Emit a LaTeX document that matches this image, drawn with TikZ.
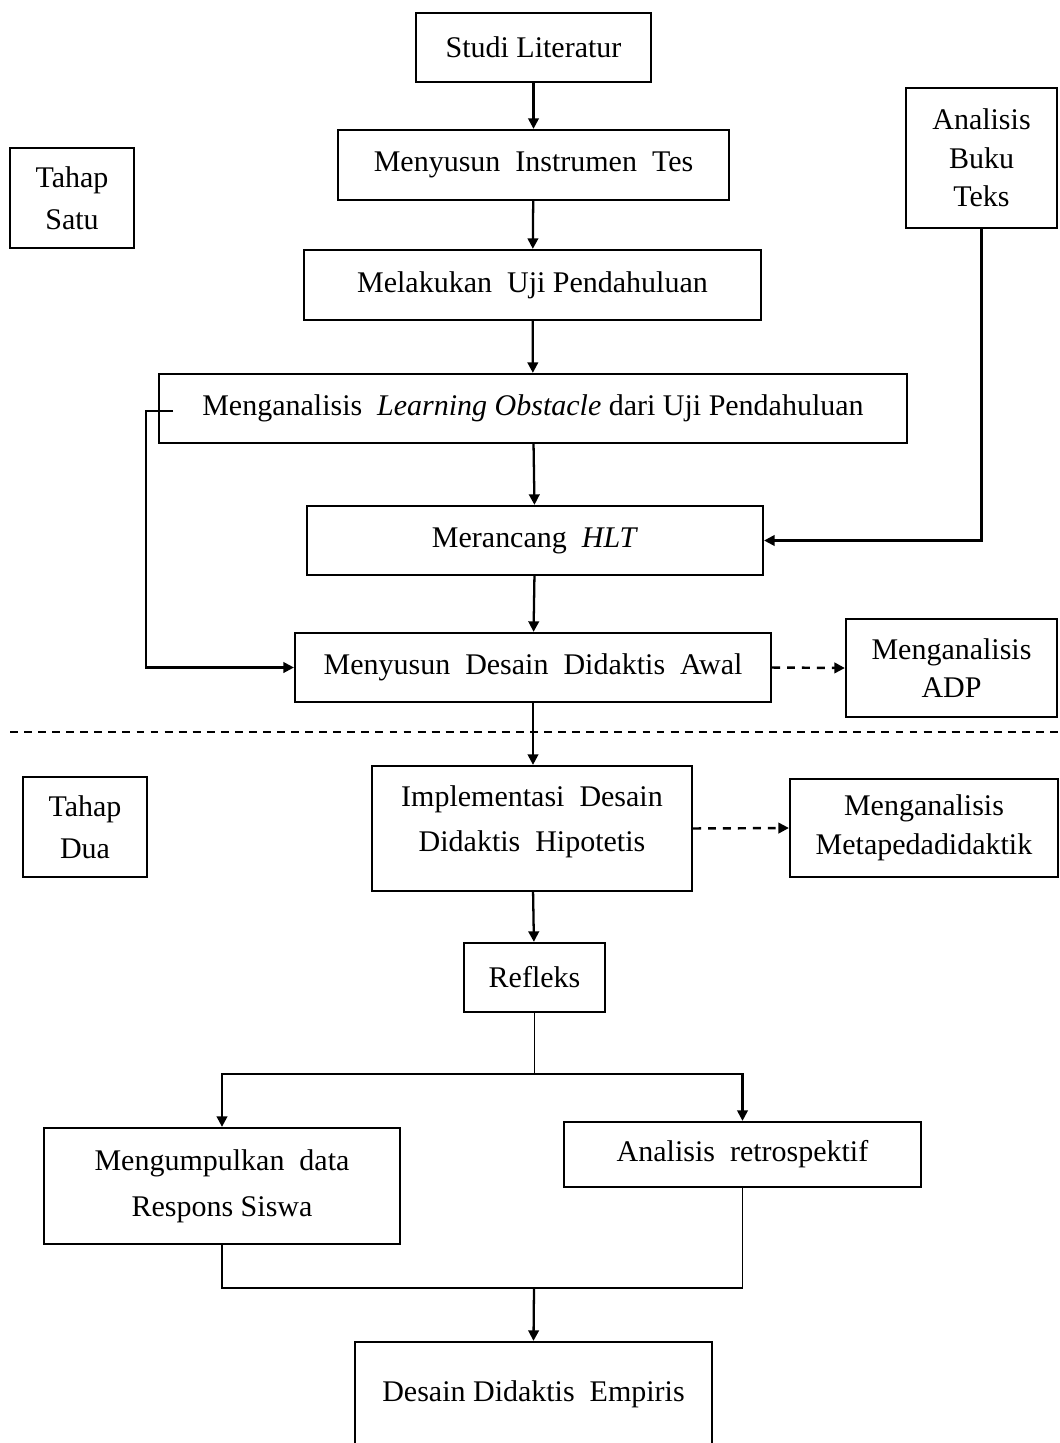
\documentclass[tikz,border=0pt]{standalone}
\usepackage{fontspec}
\setmainfont{Liberation Serif}
\usetikzlibrary{arrows.meta}

\begin{document}
\begin{tikzpicture}[x=0.02cm, y=-0.02cm,
  font=\fontsize{17.07}{22}\selectfont, >={Triangle[length=6pt,width=6pt]},
  flowbox/.style={draw, line width=1.3pt, align=center, inner sep=2pt},
  arr/.style={line width=1.3pt,->},
  dasharr/.style={line width=1.4pt,->,dash pattern=on 4.5pt off 4pt},
  joinline/.style={line width=1pt},
]
\useasboundingbox (0,0) rectangle (1059,1443);
\clip (0,0) rectangle (1059,1443);

% Tahap satu
\node[flowbox, minimum width=2.48cm, minimum height=2.00cm] (satu) at (72,198) {Tahap\\[2pt]Satu};
\node[flowbox, minimum width=4.70cm, minimum height=1.38cm] (studi) at (533.5,47.5) {Studi Literatur};
\node[flowbox, minimum width=7.82cm, minimum height=1.40cm] (instr) at (533.5,165) {Menyusun\ \ Instrumen\ \ Tes};
\node[flowbox, minimum width=9.14cm, minimum height=1.40cm] (uji) at (532.5,285) {Melakukan\ \ Uji Pendahuluan};
\node[flowbox, minimum width=14.96cm, minimum height=1.38cm] (learn) at (533,408.5)
  {Menganalisis\ \ \textit{Learning Obstacle} dari Uji Pendahuluan};
\node[flowbox, minimum width=9.12cm, minimum height=1.38cm] (hlt) at (535,540.5) {Merancang\ \ \textit{HLT}};
\node[flowbox, minimum width=9.52cm, minimum height=1.38cm] (awal) at (533,667.5)
  {Menyusun\ \ Desain\ \ Didaktis\ \ Awal};
\node[flowbox, minimum width=3.02cm, minimum height=2.80cm] (buku) at (981.5,158) {Analisis\\Buku\\Teks};
\node[flowbox, minimum width=4.22cm, minimum height=1.96cm] (adp) at (951.5,668) {Menganalisis\\ADP};

% Garis pemisah tahap
\draw[line width=0.9pt, dash pattern=on 4.5pt off 3.5pt] (10,732) -- (1059,732);

% Tahap dua
\node[flowbox, minimum width=2.48cm, minimum height=2.00cm] (dua) at (85,827) {Tahap\\[2pt]Dua};
\node[flowbox, minimum width=6.40cm, minimum height=2.50cm] (impl) at (532,828.5)
  {Implementasi\ \ Desain\\[4pt]Didaktis\ \ Hipotetis\\[-10.6pt]\mbox{}};
\node[flowbox, minimum width=5.36cm, minimum height=1.96cm] (meta) at (924,828) {Menganalisis\\Metapedadidaktik};
\node[flowbox, minimum width=2.82cm, minimum height=1.38cm] (refl) at (534.5,977.5) {Refleks};
\node[flowbox, minimum width=7.12cm, minimum height=2.32cm] (kumpul) at (222,1186)
  {Mengumpulkan\ \ data\\[4pt]Respons\ Siswa};
\node[flowbox, minimum width=7.14cm, minimum height=1.30cm] (retro) at (742.5,1154.5) {Analisis\ \ retrospektif};
\node[flowbox, minimum width=7.14cm, minimum height=2.36cm] (empiris) at (533.5,1401)
  {Desain Didaktis\ \ Empiris\\[-10.6pt]\mbox{}};

% Alur utama
\draw[arr] (studi) -- (instr);
\draw[arr] (instr) -- (uji);
\draw[arr] (uji) -- (learn);
\draw[arr] (learn) -- (hlt);
\draw[arr] (hlt) -- (awal);
\draw[arr] (awal.south) -- (awal.south |- impl.north);
\draw[arr] (impl) -- (refl);

% Umpan balik ke desain awal
\coordinate (fb) at (173,411);
\draw[arr] (fb) -- ++(-27,0) |- (awal.west);
\draw[arr] (buku.south) |- (hlt.east);

% Analisis tambahan
\draw[dasharr] (awal.east) -- (adp.west);
\draw[dasharr] (impl.east) -- (meta.west);

% Percabangan refleksi
\coordinate (split) at (534.5,1074);
\draw[joinline] (refl.south) -- (split);
\draw[arr] (split) -| (kumpul.north);
\draw[arr] (split) -| (retro.north);
\coordinate (merge) at (534,1288);
\draw[joinline] (kumpul.south) |- (retro.south |- merge) -- (retro.south);
\draw[arr] (merge) -- (empiris.north);

\end{tikzpicture}
\end{document}
